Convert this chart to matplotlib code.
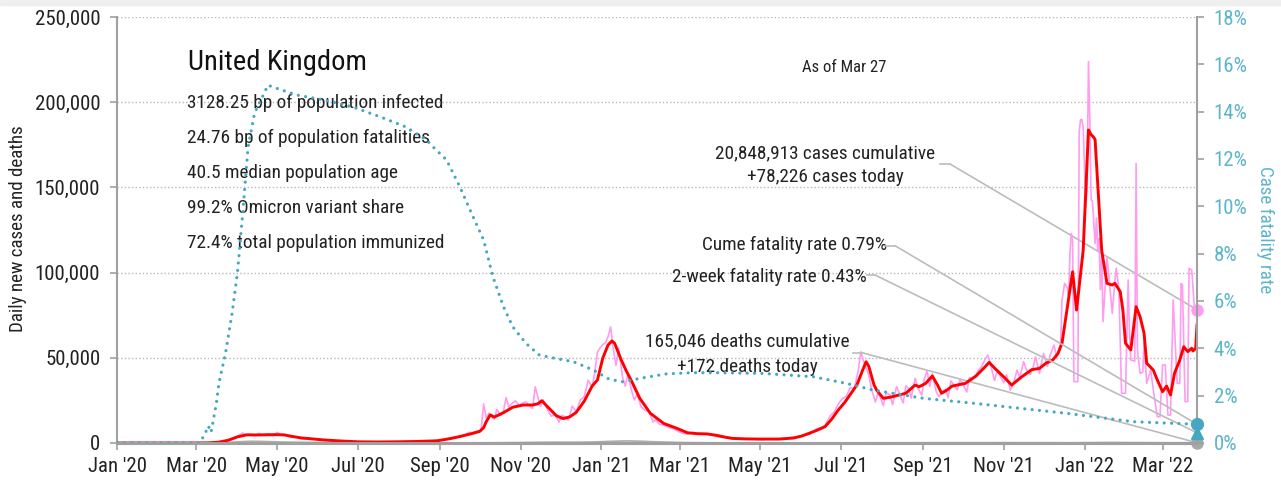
import matplotlib
matplotlib.use("Agg")
import matplotlib.pyplot as plt
import pandas as pd
from matplotlib import font_manager
from matplotlib.patches import Rectangle
from matplotlib.ticker import FuncFormatter, MultipleLocator

# ---------------------------------------------------------------- data
# Daily new cases (thousands)
case_dates = [
    "2020-01-01", "2020-02-28", "2020-03-08", "2020-03-15", "2020-03-22", "2020-03-29",
    "2020-04-02", "2020-04-05", "2020-04-08", "2020-04-11", "2020-04-14", "2020-04-17",
    "2020-04-21", "2020-04-24", "2020-04-28", "2020-05-01", "2020-05-05", "2020-05-08",
    "2020-05-12", "2020-05-16", "2020-05-20", "2020-05-25", "2020-05-31", "2020-06-07",
    "2020-06-14", "2020-06-21", "2020-07-01", "2020-07-15", "2020-08-01", "2020-08-15",
    "2020-08-28", "2020-09-04", "2020-09-09", "2020-09-12", "2020-09-16", "2020-09-19",
    "2020-09-23", "2020-09-26", "2020-09-30", "2020-10-02", "2020-10-04", "2020-10-06",
    "2020-10-08", "2020-10-10", "2020-10-12", "2020-10-14", "2020-10-17", "2020-10-19",
    "2020-10-21", "2020-10-23", "2020-10-25", "2020-10-28", "2020-10-31", "2020-11-02",
    "2020-11-05", "2020-11-08", "2020-11-10", "2020-11-12", "2020-11-14", "2020-11-16",
    "2020-11-18", "2020-11-21", "2020-11-24", "2020-11-27", "2020-11-30", "2020-12-02",
    "2020-12-05", "2020-12-07", "2020-12-10", "2020-12-13", "2020-12-16", "2020-12-19",
    "2020-12-22", "2020-12-25", "2020-12-27", "2020-12-29", "2020-12-31", "2021-01-02",
    "2021-01-04", "2021-01-06", "2021-01-08", "2021-01-10", "2021-01-12", "2021-01-14",
    "2021-01-17", "2021-01-19", "2021-01-21", "2021-01-24", "2021-01-26", "2021-01-28",
    "2021-01-31", "2021-02-03", "2021-02-06", "2021-02-09", "2021-02-11", "2021-02-14",
    "2021-02-17", "2021-02-21", "2021-02-24", "2021-02-27", "2021-03-03", "2021-03-07",
    "2021-03-11", "2021-03-15", "2021-03-19", "2021-03-23", "2021-03-28", "2021-04-03",
    "2021-04-09", "2021-04-16", "2021-04-23", "2021-05-01", "2021-05-10", "2021-05-18",
    "2021-05-27", "2021-06-03", "2021-06-08", "2021-06-12", "2021-06-16", "2021-06-19",
    "2021-06-23", "2021-06-26", "2021-06-29", "2021-07-02", "2021-07-05", "2021-07-08",
    "2021-07-11", "2021-07-14", "2021-07-16", "2021-07-18", "2021-07-20", "2021-07-22",
    "2021-07-24", "2021-07-27", "2021-07-29", "2021-07-31", "2021-08-02", "2021-08-04",
    "2021-08-07", "2021-08-09", "2021-08-12", "2021-08-14", "2021-08-17", "2021-08-19",
    "2021-08-21", "2021-08-23", "2021-08-26", "2021-08-28", "2021-08-31", "2021-09-02",
    "2021-09-04", "2021-09-06", "2021-09-08", "2021-09-11", "2021-09-13", "2021-09-16",
    "2021-09-18", "2021-09-20", "2021-09-22", "2021-09-24", "2021-09-27", "2021-09-29",
    "2021-10-01", "2021-10-04", "2021-10-06", "2021-10-08", "2021-10-11", "2021-10-13",
    "2021-10-15", "2021-10-18", "2021-10-20", "2021-10-22", "2021-10-25", "2021-10-27",
    "2021-10-29", "2021-11-01", "2021-11-03", "2021-11-06", "2021-11-09", "2021-11-11",
    "2021-11-13", "2021-11-16", "2021-11-18", "2021-11-21", "2021-11-23", "2021-11-25",
    "2021-11-28", "2021-12-01", "2021-12-04", "2021-12-06", "2021-12-09", "2021-12-11",
    "2021-12-14", "2021-12-15", "2021-12-17", "2021-12-19", "2021-12-20", "2021-12-21",
    "2021-12-22", "2021-12-23", "2021-12-24", "2021-12-27", "2021-12-28", "2021-12-29",
    "2021-12-30", "2021-12-31", "2022-01-02", "2022-01-03", "2022-01-04", "2022-01-05",
    "2022-01-06", "2022-01-07", "2022-01-09", "2022-01-10", "2022-01-11", "2022-01-12",
    "2022-01-13", "2022-01-14", "2022-01-15", "2022-01-18", "2022-01-19", "2022-01-22",
    "2022-01-24", "2022-01-25", "2022-01-27", "2022-01-29", "2022-02-01", "2022-02-03",
    "2022-02-04", "2022-02-05", "2022-02-08", "2022-02-09", "2022-02-10", "2022-02-12",
    "2022-02-14", "2022-02-15", "2022-02-17", "2022-02-20", "2022-02-22", "2022-02-25",
    "2022-02-27", "2022-03-01", "2022-03-03", "2022-03-05", "2022-03-07", "2022-03-09",
    "2022-03-10", "2022-03-12", "2022-03-14", "2022-03-15", "2022-03-16", "2022-03-18",
    "2022-03-20", "2022-03-21", "2022-03-23", "2022-03-25", "2022-03-27",
]
case_values = [
    0.0, 0.02, 0.07, 0.35, 1.0, 2.6,
    4.4, 5.9, 4.3, 5.2, 4.4, 5.6,
    4.5, 5.4, 4.1, 6.2, 4.4, 4.6,
    3.3, 3.5, 2.4, 2.7, 2.0, 1.6,
    1.2, 1.0, 0.7, 0.6, 0.8, 1.0,
    1.3, 2.0, 2.9, 3.5, 3.4, 4.4,
    6.2, 6.0, 7.1, 6.9, 22.9, 14.5,
    17.5, 15.2, 13.9, 19.7, 16.2, 18.8,
    26.7, 21.0, 23.0, 24.7, 21.9, 23.3,
    24.1, 21.5, 20.4, 33.0, 26.9, 21.4,
    25.3, 19.9, 15.7, 16.8, 12.2, 16.2,
    15.1, 13.4, 21.7, 18.4, 25.2, 27.1,
    36.8, 32.7, 41.4, 53.3, 55.9, 57.7,
    58.8, 62.3, 68.1, 54.9, 45.5, 55.8,
    38.6, 33.4, 40.3, 30.0, 25.3, 28.7,
    21.1, 19.2, 18.3, 12.4, 13.5, 10.9,
    10.6, 9.0, 8.5, 7.3, 5.8, 5.2,
    6.3, 5.0, 5.5, 5.4, 3.9, 3.3,
    2.6, 2.7, 2.4, 2.0, 2.4, 2.6,
    3.5, 4.4, 5.3, 8.1, 9.1, 10.4,
    16.1, 18.3, 22.9, 26.1, 27.3, 32.6,
    31.7, 42.3, 53.6, 48.2, 44.1, 39.9,
    31.8, 24.0, 29.3, 26.2, 21.9, 29.3,
    28.4, 22.5, 33.1, 29.2, 23.5, 33.6,
    32.1, 26.3, 38.0, 32.4, 28.1, 37.6,
    42.5, 33.2, 40.7, 30.1, 27.2, 30.4,
    31.5, 26.7, 36.4, 34.5, 31.2, 37.2,
    34.8, 29.9, 38.4, 37.3, 40.0, 42.9,
    44.7, 49.2, 51.6, 46.2, 36.6, 42.1,
    39.8, 35.4, 40.1, 31.0, 36.7, 42.8,
    38.4, 47.7, 43.2, 40.1, 43.8, 50.6,
    40.9, 52.6, 45.0, 51.6, 57.5, 50.2,
    58.5, 83.9, 93.7, 91.0, 86.0, 111.0,
    123.0, 119.0, 36.0, 36.0, 183.0, 189.6,
    190.0, 185.0, 138.0, 150.0, 223.8, 191.5,
    142.6, 142.0, 117.0, 132.0, 113.0, 120.0,
    90.0, 110.0, 71.2, 109.0, 101.5, 76.0,
    95.7, 102.5, 90.0, 29.2, 29.2, 95.7,
    64.4, 48.7, 48.0, 164.0, 54.6, 40.9,
    41.5, 58.7, 35.0, 42.8, 31.1, 15.4,
    15.4, 45.8, 45.8, 16.4, 16.4, 83.9,
    68.0, 35.0, 35.0, 93.7, 92.7, 24.3,
    24.3, 102.5, 101.5, 80.0, 78.226,
]

# 7-day average of new cases (thousands)
avg_dates = [
    "2020-01-01", "2020-02-28", "2020-03-10", "2020-03-18", "2020-03-25", "2020-04-01",
    "2020-04-08", "2020-04-15", "2020-04-22", "2020-04-29", "2020-05-06", "2020-05-12",
    "2020-05-19", "2020-05-26", "2020-06-05", "2020-06-20", "2020-07-01", "2020-07-15",
    "2020-08-01", "2020-08-15", "2020-08-30", "2020-09-09", "2020-09-16", "2020-09-24",
    "2020-10-01", "2020-10-04", "2020-10-06", "2020-10-09", "2020-10-12", "2020-10-19",
    "2020-10-26", "2020-11-03", "2020-11-10", "2020-11-14", "2020-11-17", "2020-11-21",
    "2020-11-28", "2020-12-03", "2020-12-08", "2020-12-13", "2020-12-19", "2020-12-25",
    "2020-12-29", "2021-01-02", "2021-01-06", "2021-01-09", "2021-01-11", "2021-01-16",
    "2021-01-20", "2021-01-24", "2021-01-30", "2021-02-07", "2021-02-17", "2021-02-27",
    "2021-03-07", "2021-03-14", "2021-03-22", "2021-03-29", "2021-04-04", "2021-04-10",
    "2021-04-20", "2021-05-01", "2021-05-15", "2021-05-26", "2021-06-01", "2021-06-07",
    "2021-06-13", "2021-06-19", "2021-06-24", "2021-06-29", "2021-07-04", "2021-07-09",
    "2021-07-13", "2021-07-17", "2021-07-20", "2021-07-22", "2021-07-26", "2021-07-28",
    "2021-08-02", "2021-08-08", "2021-08-11", "2021-08-19", "2021-08-26", "2021-08-29",
    "2021-09-03", "2021-09-08", "2021-09-12", "2021-09-15", "2021-09-19", "2021-09-23",
    "2021-10-03", "2021-10-11", "2021-10-17", "2021-10-21", "2021-10-25", "2021-10-28",
    "2021-11-02", "2021-11-07", "2021-11-14", "2021-11-22", "2021-11-28", "2021-12-03",
    "2021-12-08", "2021-12-12", "2021-12-15", "2021-12-23", "2021-12-26", "2021-12-31",
    "2022-01-04", "2022-01-06", "2022-01-08", "2022-01-09", "2022-01-10", "2022-01-12",
    "2022-01-14", "2022-01-18", "2022-01-22", "2022-01-24", "2022-01-28", "2022-01-30",
    "2022-02-01", "2022-02-05", "2022-02-09", "2022-02-12", "2022-02-15", "2022-02-17",
    "2022-02-22", "2022-02-25", "2022-03-01", "2022-03-04", "2022-03-07", "2022-03-10",
    "2022-03-14", "2022-03-17", "2022-03-20", "2022-03-23", "2022-03-24", "2022-03-26",
    "2022-03-27",
]
avg_values = [
    0.0, 0.01, 0.08, 0.5, 1.6, 3.6,
    4.8, 4.7, 4.8, 4.9, 4.8, 3.9,
    3.0, 2.5, 1.8, 1.1, 0.7, 0.6,
    0.7, 0.9, 1.3, 2.6, 3.8, 5.3,
    6.8, 9.0, 12.5, 16.5, 15.2, 17.8,
    21.0, 22.3, 22.3, 23.0, 24.8, 21.5,
    16.0, 14.3, 15.3, 18.0, 24.5, 33.4,
    37.0, 49.7, 57.5, 59.9, 58.5, 48.7,
    42.0, 36.0, 26.2, 17.4, 11.5, 8.6,
    6.0, 5.5, 5.3, 4.5, 3.5, 2.7,
    2.4, 2.3, 2.3, 2.9, 4.0, 5.7,
    7.5, 9.6, 14.0, 19.4, 24.0, 29.5,
    34.0, 42.0, 47.7, 45.0, 34.0, 31.0,
    26.2, 27.0, 27.6, 29.2, 34.0, 33.0,
    35.0, 39.3, 34.0, 29.2, 31.0, 33.4,
    35.0, 39.3, 44.0, 47.3, 44.0, 41.8,
    38.0, 34.0, 38.5, 43.0, 43.8, 46.9,
    48.7, 52.6, 58.5, 100.5, 78.0, 113.0,
    183.7, 181.0, 179.4, 178.0, 165.0, 140.0,
    113.0, 93.7, 92.7, 93.7, 88.8, 78.0,
    58.5, 54.6, 80.0, 74.1, 64.4, 46.8,
    42.8, 37.0, 30.1, 33.4, 28.2, 40.9,
    48.7, 56.5, 53.6, 55.6, 54.0, 55.5,
    69.2,
]

# Daily deaths (thousands)
death_dates = [
    "2020-01-01", "2020-03-10", "2020-03-25", "2020-04-05", "2020-04-12", "2020-04-20",
    "2020-05-01", "2020-05-15", "2020-06-01", "2020-06-20", "2020-07-15", "2020-09-01",
    "2020-09-30", "2020-10-20", "2020-11-10", "2020-11-25", "2020-12-10", "2020-12-25",
    "2021-01-10", "2021-01-20", "2021-01-30", "2021-02-10", "2021-02-25", "2021-03-10",
    "2021-03-31", "2021-05-01", "2021-06-15", "2021-07-15", "2021-08-10", "2021-09-10",
    "2021-10-10", "2021-11-01", "2021-12-01", "2021-12-25", "2022-01-10", "2022-01-25",
    "2022-02-10", "2022-02-25", "2022-03-10", "2022-03-27",
]
death_values = [
    0.0, 0.0, 0.3, 0.8, 1.0, 0.9,
    0.6, 0.4, 0.25, 0.12, 0.05, 0.02,
    0.06, 0.15, 0.35, 0.45, 0.42, 0.55,
    1.0, 1.25, 1.05, 0.7, 0.35, 0.15,
    0.05, 0.01, 0.01, 0.05, 0.09, 0.13,
    0.12, 0.16, 0.12, 0.1, 0.25, 0.27,
    0.2, 0.12, 0.09, 0.172,
]

# Cumulative case fatality rate (%)
cfr_dates = [
    "2020-01-01", "2020-03-03", "2020-03-05", "2020-03-07", "2020-03-09", "2020-03-10",
    "2020-03-12", "2020-03-13", "2020-03-14", "2020-03-15", "2020-03-16", "2020-03-18",
    "2020-03-23", "2020-03-28", "2020-04-01", "2020-04-05", "2020-04-09", "2020-04-14",
    "2020-04-20", "2020-04-24", "2020-05-01", "2020-05-16", "2020-06-05", "2020-06-27",
    "2020-07-17", "2020-08-06", "2020-08-22", "2020-08-27", "2020-09-06", "2020-09-16",
    "2020-09-26", "2020-10-04", "2020-10-11", "2020-10-19", "2020-10-26", "2020-11-05",
    "2020-11-15", "2020-11-25", "2020-12-11", "2020-12-26", "2021-01-07", "2021-01-17",
    "2021-01-30", "2021-02-19", "2021-03-11", "2021-03-29", "2021-05-03", "2021-06-10",
    "2021-07-05", "2021-07-25", "2021-09-01", "2021-10-09", "2021-11-06", "2021-12-19",
    "2022-02-07", "2022-03-27",
]
cfr_values = [
    0.0, 0.0, 0.1, 0.4, 0.55, 0.72,
    0.45, 0.72, 1.04, 1.35, 1.65, 2.52,
    3.8, 5.5, 7.2, 9.7, 12.5, 13.95,
    14.64, 15.12, 14.98, 14.7, 14.5, 14.2,
    13.8, 13.36, 12.8, 12.5, 11.96, 10.83,
    9.56, 8.58, 7.03, 5.76, 4.91, 4.21,
    3.72, 3.6, 3.43, 3.08, 2.69, 2.59,
    2.73, 2.92, 2.97, 2.97, 2.94, 2.8,
    2.52, 2.24, 1.89, 1.68, 1.51, 1.25,
    0.9, 0.79,
]

last_date = "2022-03-27"
cases_total = 20848913
cases_today = 78226
deaths_total = 165046
deaths_today = 172
cume_cfr = 0.79
two_week_cfr = 0.43

country = "United Kingdom"
stat_lines = [
    "3128.25 bp of population infected",
    "24.76 bp of population fatalities",
    "40.5 median population age",
    "99.2% Omicron variant share",
    "72.4% total population immunized",
]

tick_dates = pd.date_range("2020-01-01", "2022-03-01", freq="2MS")
tick_labels = [d.strftime("%b '%y") for d in tick_dates]

# ---------------------------------------------------------------- style
installed = {f.name for f in font_manager.fontManager.ttflist}
family = "DejaVu Sans"
for cand in ["Roboto Condensed", "Liberation Sans Narrow", "Open Sans Condensed"]:
    if cand in installed:
        family = cand
        break
plt.rcParams["font.family"] = [family, "DejaVu Sans"]
if family == "DejaVu Sans":
    plt.rcParams["font.stretch"] = "condensed"

TXT = "#222222"
PINK = "#ff9cf0"
RED = "#ff0000"
TEAL = "#45a8c0"
TEAL_TXT = "#5db5ca"
AXIS = "#a0a0a0"
LEAD = "#bcbcbc"
BODY = 13.9
TICK = 15

W, H = 1281, 482
fig = plt.figure(figsize=(W / 100, H / 100), dpi=100)
fig.patches.append(Rectangle((0, 1 - 5 / H), 1, 5 / H, transform=fig.transFigure,
                             color="#efefef", zorder=0))

L, R, B, T = 117, 1197, 443, 17
ax = fig.add_axes([L / W, (H - B) / H, (R - L) / W, (B - T) / H])
ax2 = ax.twinx()

x_case = pd.to_datetime(case_dates)
x_avg = pd.to_datetime(avg_dates)
x_death = pd.to_datetime(death_dates)
x_cfr = pd.to_datetime(cfr_dates)
x_last = pd.Timestamp(last_date)

ax.plot(x_case, [v * 1000 for v in case_values], color=PINK, lw=1.2, zorder=2)
ax.plot(x_death, [v * 1000 for v in death_values], color="#b0b0b0", lw=1.3, zorder=2)
ax.plot(x_avg, [v * 1000 for v in avg_values], color=RED, lw=2.1, zorder=3)

ax2.plot(x_cfr, cfr_values, color=TEAL, lw=2.3, linestyle=(0, (0.01, 2.3)),
         dash_capstyle="round", zorder=3)

# end-of-series markers
ax.plot([x_last], [cases_today], "o", color=PINK, ms=8, clip_on=False, zorder=6)
ax.plot([x_last], [deaths_today], "o", color="#a8a8a8", ms=8, clip_on=False, zorder=6)
ax2.plot([x_last], [cume_cfr], "o", color=TEAL, ms=8.5, clip_on=False, zorder=6)
ax2.plot([x_last], [two_week_cfr], "^", color=TEAL, ms=8.5, clip_on=False, zorder=6)

# axes limits / ticks
ax.set_xlim(pd.Timestamp("2020-01-01"), x_last)
ax.set_ylim(0, 250000)
ax2.set_ylim(0, 18)
ax.yaxis.set_major_locator(MultipleLocator(50000))
ax.yaxis.set_major_formatter(FuncFormatter(lambda v, p: f"{v:,.0f}"))
ax2.yaxis.set_major_locator(MultipleLocator(2))
ax2.yaxis.set_major_formatter(FuncFormatter(lambda v, p: f"{v:.0f}%"))
ax.set_xticks(tick_dates)
ax.set_xticklabels(tick_labels)

ax.grid(axis="y", color="#b8b8b8", linestyle=(0, (1, 1.6)), lw=1.0)
ax.set_axisbelow(True)

for a in (ax, ax2):
    a.spines["top"].set_visible(False)
    a.spines["bottom"].set_color(AXIS)
    a.spines["bottom"].set_linewidth(2.2)
ax.spines["right"].set_visible(False)
ax.spines["left"].set_color(AXIS)
ax.spines["left"].set_linewidth(1.5)
ax2.spines["left"].set_visible(False)
ax2.spines["right"].set_color(AXIS)
ax2.spines["right"].set_linewidth(1.5)

ax.tick_params(axis="y", length=5, width=1.2, color=AXIS, pad=7, labelsize=TICK,
               labelcolor=TXT)
ax.tick_params(axis="x", length=5, width=1.2, color=AXIS, pad=5, labelsize=TICK,
               labelcolor=TXT)
ax2.tick_params(axis="y", length=5, width=1.2, color=AXIS, pad=7, labelsize=TICK,
                labelcolor=TEAL_TXT)

fig.text(18 / W, (H - 229) / H, "Daily new cases and deaths", rotation=90,
         ha="center", va="center", fontsize=13.7, color=TXT)
fig.text(1265 / W, (H - 230) / H, "Case fatality rate", rotation=270,
         ha="center", va="center", fontsize=13.7, color=TEAL_TXT)


def fx(px):
    return (px - L) / (R - L)


def fy(py):
    return (B - py) / (B - T)


# headline block
ax.text(fx(188), fy(63), country, transform=ax.transAxes, ha="left", va="center",
        fontsize=20.5, color="#111111")
for i, line in enumerate(stat_lines):
    ax.text(fx(187), fy(103 + 35 * i), line, transform=ax.transAxes, ha="left",
            va="center", fontsize=BODY, color=TXT)

ax.text(fx(844), fy(68), f"As of {x_last.strftime('%b')} {x_last.day}",
        transform=ax.transAxes, ha="center", va="center", fontsize=12, color=TXT)

# callouts
ax.text(fx(825), fy(153), f"{cases_total:,} cases cumulative", transform=ax.transAxes,
        ha="center", va="center", fontsize=BODY, color=TXT)
ax.text(fx(825), fy(177), f"+{cases_today:,} cases today", transform=ax.transAxes,
        ha="center", va="center", fontsize=BODY, color=TXT)
ax.text(fx(702), fy(245), f"Cume fatality rate {cume_cfr:.2f}%", transform=ax.transAxes,
        ha="left", va="center", fontsize=BODY, color=TXT)
ax.text(fx(672), fy(277), f"2-week fatality rate {two_week_cfr:.2f}%",
        transform=ax.transAxes, ha="left", va="center", fontsize=BODY, color=TXT)
ax.text(fx(747.5), fy(341.7), f"{deaths_total:,} deaths cumulative",
        transform=ax.transAxes, ha="center", va="center", fontsize=BODY, color=TXT)
ax.text(fx(747.5), fy(366.7), f"+{deaths_today:,} deaths today", transform=ax.transAxes,
        ha="center", va="center", fontsize=BODY, color=TXT)


def leader(axis, px0, px1, py, target):
    ax2.plot([fx(px0), fx(px1)], [fy(py), fy(py)], transform=ax2.transAxes,
             color=LEAD, lw=1.2, zorder=1, clip_on=False)
    axis.annotate("", xy=target, xycoords="data", xytext=(fx(px1), fy(py)),
                  textcoords="axes fraction",
                  arrowprops=dict(arrowstyle="-", color=LEAD, lw=1.2,
                                  shrinkA=0, shrinkB=0),
                  zorder=1, annotation_clip=False)


leader(ax, 940, 950, 164, (x_last, cases_today))
leader(ax2, 885, 895, 245.7, (x_last, cume_cfr))
leader(ax2, 867, 875, 275, (x_last, two_week_cfr))
leader(ax, 853, 862, 352.7, (x_last, deaths_today))

fig.savefig("out.png", dpi=100)
